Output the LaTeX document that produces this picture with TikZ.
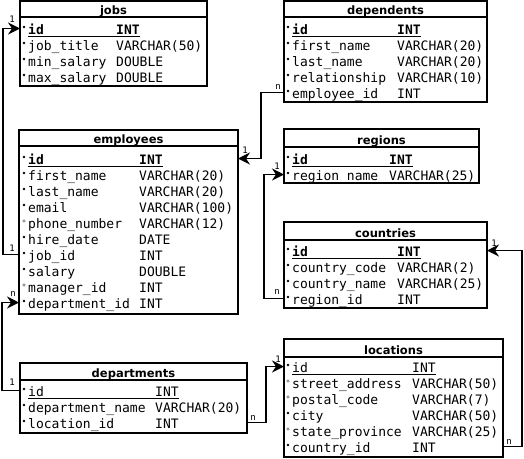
\documentclass[tikz,border=0pt]{standalone}
\usepackage{fontspec}
\setmainfont{DejaVu Sans}
\newfontfamily\monof{DejaVu Sans Mono}
\usetikzlibrary{arrows.meta,calc}

\tikzset{
  tblbox/.style={draw, line width=2pt, inner sep=0pt, outer sep=0pt},
  sepline/.style={line width=2pt},
  ttl/.style={font=\fontsize{11.5}{11.5}\selectfont\bfseries, inner sep=0pt, anchor=base},
  fname/.style={font=\fontsize{13}{13}\selectfont\monof, inner sep=0pt, anchor=base west, text height=12pt, text depth=1pt},
  fkey/.style={font=\fontsize{13}{13}\selectfont\monof\bfseries, inner sep=0pt, anchor=base west, text height=12pt, text depth=1pt},
  uline/.style={line width=1pt},
  conn/.style={line width=1.6pt, -{Stealth[length=12pt,width=12pt,inset=4pt]}},
  card/.style={font=\fontsize{9}{9}\selectfont\monof, inner sep=0pt},
  nn/.style={fill=black},
  nul/.style={draw=black!55, line width=0.5pt, fill=white}
}

\newcommand\mktable[7]{%
  \node[tblbox, minimum width={#4-#2}, minimum height={#6-#3}] (#1) at ({(#2+#4)/2},{(#3+#6)/2}) {};
  \draw[sepline] (#2,#5) -- (#4,#5);
  \node[ttl] (#1-title) at ({(#2+#4)/2},#5-3) {#7};
}
\newcommand\fld[7]{%
  \path[#2] (#3-4,#4-7) circle (1.3pt);
  \node[fname] (#1) at (#3,#4) {#6};
  \node[fname] (#1-t) at (#5,#4) {#7};
}
\newcommand\keyfld[6]{%
  \path[nn] (#3-4,#4-7) circle (1.3pt);
  \node[#2] (#1) at (#3,#4) {id};
  \node[#2] (#1-t) at (#5,#4) {#6};
  \draw[uline] (#3,#4+2.5) -- (#5+23.5,#4+2.5);
}

\begin{document}
\begin{tikzpicture}[x=1pt,y=-1pt]
\useasboundingbox (0,0) rectangle (524,458);

% jobs
\mktable{jobs}{20}{1}{207}{17}{86}{jobs}
\keyfld{jobs-id}{fkey}{28}{34}{116}{INT}
\fld{jobs-jobtitle}{nn}{28}{50}{116}{job\_title}{VARCHAR(50)}
\fld{jobs-min}{nn}{28}{66}{116}{min\_salary}{DOUBLE}
\fld{jobs-max}{nn}{28}{82}{116}{max\_salary}{DOUBLE}

% employees
\mktable{employees}{19}{130}{238}{146}{314}{employees}
\keyfld{emp-id}{fkey}{28}{164}{139}{INT}
\fld{emp-first}{nn}{28}{180}{139}{first\_name}{VARCHAR(20)}
\fld{emp-last}{nn}{28}{196}{139}{last\_name}{VARCHAR(20)}
\fld{emp-email}{nn}{28}{212}{139}{email}{VARCHAR(100)}
\fld{emp-phone}{nul}{28}{228}{139}{phone\_number}{VARCHAR(12)}
\fld{emp-hire}{nn}{28}{244}{139}{hire\_date}{DATE}
\fld{emp-jobid}{nn}{28}{260}{139}{job\_id}{INT}
\fld{emp-salary}{nn}{28}{276}{139}{salary}{DOUBLE}
\fld{emp-mgr}{nul}{28}{292}{139}{manager\_id}{INT}
\fld{emp-deptid}{nn}{28}{308}{139}{department\_id}{INT}

% dependents
\mktable{dependents}{284}{1}{487}{17}{102}{dependents}
\keyfld{dep-id}{fkey}{292}{34}{397}{INT}
\fld{dep-first}{nn}{292}{50}{397}{first\_name}{VARCHAR(20)}
\fld{dep-last}{nn}{292}{66}{397}{last\_name}{VARCHAR(20)}
\fld{dep-rel}{nn}{292}{82}{397}{relationship}{VARCHAR(10)}
\fld{dep-empid}{nn}{292}{98}{397}{employee\_id}{INT}

% regions
\mktable{regions}{284}{129}{479}{147}{183}{regions}
\keyfld{reg-id}{fkey}{292}{164}{389}{INT}
\fld{reg-name}{nn}{292}{180}{389}{region\_name}{VARCHAR(25)}

% countries
\mktable{countries}{284}{222}{487}{240}{308}{countries}
\keyfld{cty-id}{fkey}{292}{256}{397}{INT}
\fld{cty-code}{nn}{292}{272}{397}{country\_code}{VARCHAR(2)}
\fld{cty-name}{nn}{292}{288}{397}{country\_name}{VARCHAR(25)}
\fld{cty-regid}{nn}{292}{304}{397}{region\_id}{INT}

% departments
\mktable{departments}{20}{363}{247}{380}{433}{departments}
\keyfld{dept-id}{fname}{28}{396}{155}{INT}
\fld{dept-name}{nn}{28}{412}{155}{department\_name}{VARCHAR(20)}
\fld{dept-locid}{nn}{28}{428}{155}{location\_id}{INT}

% locations
\mktable{locations}{284}{339}{503}{357}{457}{locations}
\keyfld{loc-id}{fname}{292}{372}{412}{INT}
\fld{loc-street}{nul}{292}{388}{412}{street\_address}{VARCHAR(50)}
\fld{loc-postal}{nul}{292}{404}{412}{postal\_code}{VARCHAR(7)}
\fld{loc-city}{nn}{292}{420}{412}{city}{VARCHAR(50)}
\fld{loc-state}{nul}{292}{436}{412}{state\_province}{VARCHAR(25)}
\fld{loc-ctyid}{nn}{292}{452}{412}{country\_id}{INT}

% connectors
\draw[conn] (emp-jobid -| employees.west) -- ++(-16,0) |- (jobs-id -| jobs.west);
\node[card] (c1a) at ($(emp-jobid -| employees.west)+(-7,-6)$) {1};
\node[card] (c1b) at ($(jobs-id -| jobs.west)+(-8,-9)$) {1};

\draw[conn] (dep-empid -| dependents.west) -- ++(-23,0) |- (emp-id -| employees.east);
\node[card] (c2a) at ($(dep-empid -| dependents.west)+(-6,-6)$) {n};
\node[card] (c2b) at ($(emp-id -| employees.east)+(7,-8)$) {1};

\draw[conn] (dept-id -| departments.west) -- ++(-18,0) |- (emp-deptid -| employees.west);
\node[card] (c3a) at ($(dept-id -| departments.west)+(-8,-8)$) {1};
\node[card] (c3b) at ($(emp-deptid -| employees.west)+(-6,-9)$) {n};

\draw[conn] (cty-regid -| countries.west) -- ++(-20,0) |- (reg-name -| regions.west);
\node[card] (c4a) at ($(cty-regid -| countries.west)+(-7,-7)$) {n};
\node[card] (c4b) at ($(reg-name -| regions.west)+(-7,-8)$) {1};

\draw[conn] (loc-ctyid -| locations.east) -- ++(19,0) |- (cty-id -| countries.east);
\node[card] (c5a) at ($(loc-ctyid -| locations.east)+(6,-5)$) {n};
\node[card] (c5b) at ($(cty-id -| countries.east)+(7,-7)$) {1};

\draw[conn] (dept-locid -| departments.east) -- ++(19,0) |- (loc-id -| locations.west);
\node[card] (c6a) at ($(dept-locid -| departments.east)+(6,-5)$) {n};
\node[card] (c6b) at ($(loc-id -| locations.west)+(-6,-7)$) {1};
\end{tikzpicture}
\end{document}
